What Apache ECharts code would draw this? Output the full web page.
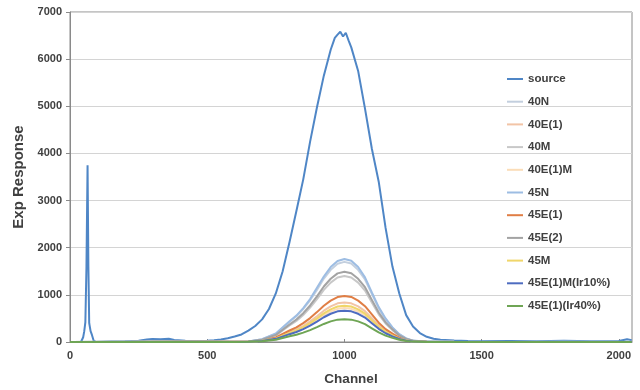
<!DOCTYPE html>
<html>
<head>
<meta charset="utf-8">
<script src="https://cdn.jsdelivr.net/npm/echarts@6/dist/echarts.min.js"></script>
<style>html,body{margin:0;padding:0;background:#fff}#c{width:640px;height:390px}</style>
</head>
<body>
<div id="c"></div>
<script>
// Channels and values
const sourceChannels = [0,40,48,52,56,60,64,67,70,75,80,86,95,150,200,250,280,300,330,360,380,420,460,500,525,550,575,600,625,650,675,700,725,750,775,800,825,850,875,900,925,950,965,975,985,995,1005,1015,1025,1050,1075,1100,1125,1150,1175,1200,1225,1250,1275,1300,1325,1350,1400,1450,1500,1600,1700,1800,1900,2000,2030,2047];
const sourceValues   = [0,0,100,230,420,1600,3750,1600,400,230,150,30,0,10,15,25,55,65,60,70,45,25,20,25,35,55,80,115,160,240,340,480,700,1030,1500,2120,2780,3450,4250,4980,5650,6200,6450,6520,6580,6480,6560,6400,6250,5750,4950,4100,3400,2420,1600,1030,570,330,190,110,70,50,30,20,15,20,15,25,15,20,60,40];

const peakChannels = [0,200,400,600,650,700,750,800,825,850,875,900,925,950,975,1000,1025,1050,1075,1100,1125,1150,1175,1200,1225,1250,1300,1400,1600,1800,2047];

const v40N      = [0,3,5,4,10,58,170,425,545,700,885,1105,1345,1530,1660,1700,1665,1530,1325,1020,715,475,305,160,73,29,8,3,2,3,2];
const v40E1     = [0,2,4,3,5,29,84,210,269,344,437,546,664,756,821,840,821,756,655,504,353,235,151,79,36,14,4,2,1,2,1];
const v40M      = [0,3,4,3,8,48,140,350,448,574,728,910,1106,1260,1368,1400,1368,1260,1092,840,588,392,252,132,60,24,7,3,2,2,2];
const v40E1M    = [0,2,3,2,4,24,72,180,230,295,374,468,569,648,703,720,703,648,562,432,302,202,130,68,31,12,4,2,1,2,1];
const v45N      = [0,5,8,5,10,60,180,440,560,720,910,1150,1390,1590,1720,1760,1725,1590,1370,1050,740,500,310,165,75,30,8,3,2,3,2];
const v45E1     = [0,2,4,3,6,33,98,244,312,400,507,634,770,878,953,975,955,878,760,585,410,273,176,92,42,17,5,2,1,2,1];
const v45E2     = [0,3,5,4,9,50,150,372,477,611,775,968,1177,1341,1456,1490,1458,1341,1162,894,626,417,268,140,64,25,7,3,2,2,2];
const v45M      = [0,2,3,2,5,26,77,193,246,316,400,500,608,693,752,770,752,693,600,462,323,216,139,72,33,13,4,2,1,2,1];
const v45E1MIr10= [0,2,3,2,4,23,67,166,213,273,346,432,525,599,650,665,650,599,519,399,279,186,120,63,29,11,3,2,1,2,1];
const v45E1Ir40 = [0,1,2,1,3,16,49,121,155,199,252,315,383,437,474,485,474,437,378,291,204,136,87,46,21,8,2,1,1,1,1];

const seriesNames = ['source','40N','40E(1)','40M','40E(1)M','45N','45E(1)','45E(2)','45M','45E(1)M(Ir10%)','45E(1)(Ir40%)'];
const seriesValues = [sourceValues,v40N,v40E1,v40M,v40E1M,v45N,v45E1,v45E2,v45M,v45E1MIr10,v45E1Ir40];
const seriesColors = ['#4F86C6','#C3CFDE','#F2C4A6','#C8C8C8','#FBDDB8','#9DBDE3','#E07E45','#A3A3A3','#F0D66A','#4E6CC0','#6FA555'];

const xTicks = {min:0, max:2048, interval:500};
const yTicks = {min:0, max:7000, interval:1000};

const series = seriesNames.map((name,i)=>{
  const ch = i===0 ? sourceChannels : peakChannels;
  return {
    name, type:'line', showSymbol:false, symbol:'none', smooth:false,
    data: ch.map((c,j)=>[c, seriesValues[i][j]]),
    lineStyle:{color:seriesColors[i], width:2},
    itemStyle:{color:seriesColors[i]},
    z: 2+i
  };
});

const chart = echarts.init(document.getElementById('c'), null, {renderer:'canvas'});
const txt = {fontFamily:'Liberation Sans, Arial, sans-serif', fontWeight:'bold', color:'#404040'};
chart.setOption({
  animation:false,
  backgroundColor:'#fff',
  grid:{left:70, right:8, top:12, bottom:48, show:true, borderColor:'#8a8a8a', borderWidth:1, containLabel:false, outerBoundsMode:'none'},
  legend:{
    orient:'vertical', left:502, top:67,
    data: seriesNames,
    icon:'rect', itemWidth:16, itemHeight:2, itemGap:8.7,
    textStyle:Object.assign({}, txt, {fontSize:11.5, lineHeight:14})
  },
  xAxis:{
    type:'value', min:xTicks.min, max:xTicks.max, interval:xTicks.interval,
    name:'Channel', nameLocation:'middle', nameGap:30,
    nameTextStyle:Object.assign({}, txt, {fontSize:13.5}),
    axisLine:{show:true, lineStyle:{color:'#8a8a8a'}},
    axisTick:{show:true, inside:true, length:3, lineStyle:{color:'#8a8a8a'}},
    axisLabel:Object.assign({}, txt, {fontSize:11, margin:8, showMaxLabel:false, formatter:(v)=>String(v)}),
    splitLine:{show:false}
  },
  yAxis:{
    type:'value', min:yTicks.min, max:yTicks.max, interval:yTicks.interval,
    name:'Exp Response', nameLocation:'middle', nameGap:42,
    nameTextStyle:Object.assign({}, txt, {fontSize:15}),
    axisLine:{show:true, lineStyle:{color:'#8a8a8a'}},
    axisTick:{show:true, length:4, lineStyle:{color:'#8a8a8a'}},
    axisLabel:Object.assign({}, txt, {fontSize:11, margin:8, formatter:(v)=>String(v)}),
    splitLine:{show:true, lineStyle:{color:'#d4d4d4', width:1}}
  },
  series
});
</script>
</body>
</html>
